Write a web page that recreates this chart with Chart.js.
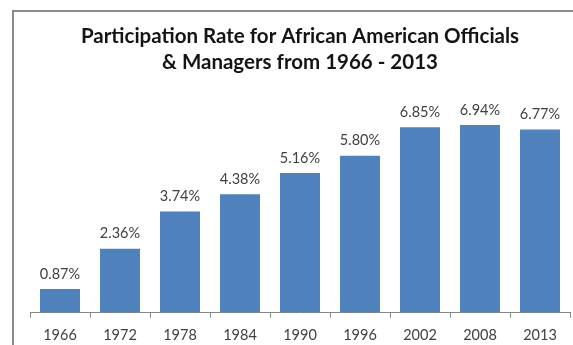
<!DOCTYPE html>
<html>
<head>
<meta charset="utf-8">
<script src="https://cdn.jsdelivr.net/npm/chart.js@4"></script>
<style>
  html, body { margin: 0; padding: 0; background: #fff; overflow: hidden; }
  #frame {
    position: absolute; left: 12px; top: 10px; width: 700px; height: 400px;
    border-left: 2px solid #8a8a8a; border-top: 2px solid #8a8a8a;
  }
  #wrap { position: absolute; left: 0; top: 0; width: 573px; height: 354px; }
</style>
</head>
<body>
<div id="frame"></div>
<div id="wrap"><canvas id="bars"></canvas></div>
<script>
const years = ["1966", "1972", "1978", "1984", "1990", "1996", "2002", "2008", "2013"]
const rates = [0.87, 2.36, 3.74, 4.38, 5.16, 5.80, 6.85, 6.94, 6.77]
const titleLines = ["Participation Rate for African American Officials", "& Managers from 1966 - 2013"]

// percent text over each bar
const barLabels = {
  id: 'barLabels',
  afterDatasetsDraw(chart) {
    const ctx = chart.ctx
    const meta = chart.getDatasetMeta(0)
    ctx.save()
    ctx.font = '14.5px Lato'
    ctx.fillStyle = '#404040'
    ctx.textAlign = 'center'
    ctx.textBaseline = 'middle'
    meta.data.forEach((bar, i) => {
      ctx.fillText(rates[i].toFixed(2) + '%', bar.x, bar.y - 15)
    })
    ctx.restore()
  }
}

const rateChart = new Chart(document.getElementById("bars"), {
  type: 'bar',
  data: {
    labels: years,
    datasets: [{
      data: rates,
      backgroundColor: "#4F81BD",
      borderWidth: 0,
      categoryPercentage: 1,
      barPercentage: 0.667
    }]
  },
  options: {
    responsive: true,
    maintainAspectRatio: false,
    animation: false,
    layout: { padding: { left: 30, right: 3, top: 0, bottom: 1 } },
    plugins: {
      legend: { display: false },
      tooltip: { enabled: false },
      title: {
        display: true,
        text: titleLines,
        color: '#141414',
        font: { family: 'Lato', size: 20.5, weight: 'bold', lineHeight: 1.25 },
        padding: { top: 24, bottom: 21 }
      }
    },
    scales: {
      x: {
        grid: { offset: true, drawOnChartArea: false, tickLength: 5, color: '#868686' },
        border: { color: '#868686', width: 1 },
        ticks: { padding: 9, color: '#404040', font: { family: 'Lato', size: 14.5 } }
      },
      y: { display: false, min: 0, max: 8 }
    }
  },
  plugins: [barLabels]
});
</script>
</body>
</html>
